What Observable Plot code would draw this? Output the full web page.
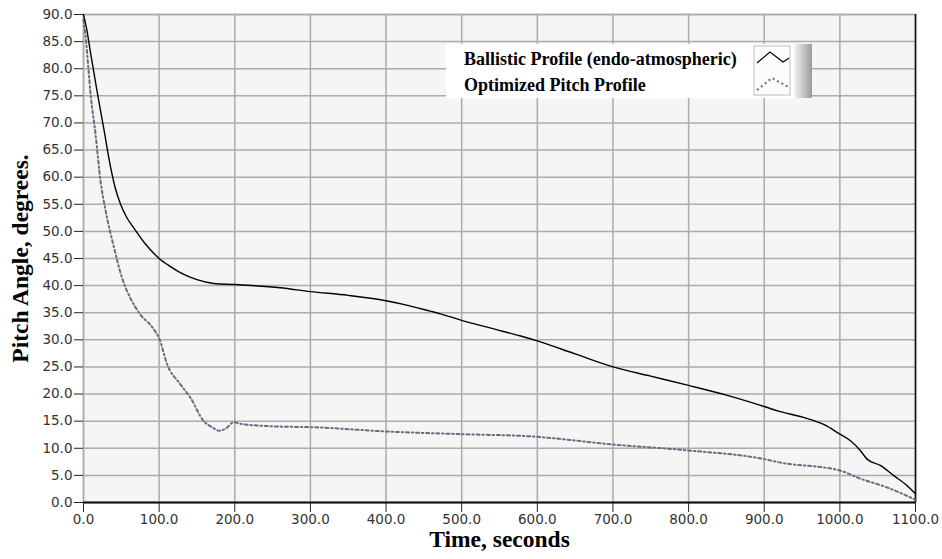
<!DOCTYPE html>
<html>
<head>
<meta charset="utf-8">
<script src="https://cdn.jsdelivr.net/npm/d3@7"></script>
<script src="https://cdn.jsdelivr.net/npm/@observablehq/plot@0.6"></script>
<style>
  html, body { margin: 0; padding: 0; background: white; }
  #chart { position: relative; width: 942px; height: 559px; }
</style>
</head>
<body>
<div id="chart"></div>
<script>
// ---- Data ----
const ballisticTime = [0, 4, 9, 18, 27, 36, 42, 49, 57, 66.7, 80, 90, 100, 115, 128, 150, 172, 200, 260, 300, 350, 400, 430, 458, 472, 500, 540, 578, 600, 650, 700, 750, 800, 850, 900, 920, 952, 980, 1000, 1014, 1027, 1036, 1054, 1071, 1089, 1100];
const ballisticPitch = [90, 87.5, 83.2, 75.8, 68.8, 61.7, 58.0, 55.0, 52.6, 50.6, 48.0, 46.4, 45.0, 43.5, 42.4, 41.1, 40.4, 40.2, 39.6, 38.9, 38.2, 37.2, 36.3, 35.3, 34.8, 33.6, 32.1, 30.7, 29.8, 27.4, 25.0, 23.3, 21.6, 19.8, 17.7, 16.8, 15.7, 14.3, 12.6, 11.4, 9.6, 8.0, 6.8, 5.0, 3.1, 1.6];

const optimizedTime = [0, 3, 9.5, 16, 22.6, 29, 40, 51, 62, 75, 91, 100.5, 110.6, 128, 141.5, 159, 170, 179, 187.7, 198.7, 207.5, 260, 300, 400, 500, 591, 700, 800, 900, 920, 1000, 1027, 1062, 1100];
const optimizedPitch = [89, 85.6, 75.1, 67.8, 59.2, 54, 47.2, 41.4, 37.7, 34.7, 32.3, 30.1, 25.5, 21.8, 19.3, 15.0, 13.9, 13.25, 13.6, 14.8, 14.5, 14.0, 13.9, 13.1, 12.6, 12.2, 10.7, 9.6, 8.0, 7.4, 5.9, 4.4, 2.8, 0.5];

const xTicks = [0, 100, 200, 300, 400, 500, 600, 700, 800, 900, 1000, 1100];
const yTicks = [0, 5, 10, 15, 20, 25, 30, 35, 40, 45, 50, 55, 60, 65, 70, 75, 80, 85, 90];

const seriesNames = ["Ballistic Profile (endo-atmospheric)", "Optimized Pitch Profile"];
const xTitle = "Time, seconds";
const yTitle = "Pitch Angle, degrees.";

const ballistic = ballisticTime.map((t, i) => ({t, v: ballisticPitch[i]}));
const optimized = optimizedTime.map((t, i) => ({t, v: optimizedPitch[i]}));

const fmt = d3.format(".1f");
const titleFont = "'Liberation Serif', 'Times New Roman', serif";
const tickFont = "'DejaVu Sans', Verdana, sans-serif";

const plot = Plot.plot({
  width: 942,
  height: 559,
  marginLeft: 83,
  marginRight: 27,
  marginTop: 14,
  marginBottom: 57,
  style: {fontFamily: tickFont, fontSize: "13.5px", color: "#333", background: "white", overflow: "visible"},
  x: {domain: [0, 1100], label: null},
  y: {domain: [0, 90], label: null},
  marks: [
    Plot.frame({fill: "#f5f5f5", stroke: "#a8a8a8", strokeWidth: 1.5}),
    Plot.gridX(xTicks, {stroke: "#ababab", strokeOpacity: 1, strokeWidth: 1.5}),
    Plot.gridY(yTicks, {stroke: "#ababab", strokeOpacity: 1, strokeWidth: 1.5}),
    Plot.axisX(xTicks, {tickFormat: fmt, tickSize: 10, tickPadding: 2, stroke: "#222", fill: "#333", fontSize: 13.5, label: null}),
    Plot.axisY(yTicks, {tickFormat: fmt, tickSize: 9, tickPadding: 2, stroke: "#222", fill: "#333", fontSize: 13.5, label: null}),
    Plot.ruleY([0], {stroke: "#111", strokeWidth: 2.2}),
    Plot.ruleX([1100], {stroke: "#111", strokeWidth: 1.5}),
    Plot.line(optimized, {x: "t", y: "v", stroke: "#6a6a82", strokeWidth: 2, strokeDasharray: "3,2.8,1.5,2.8", curve: "monotone-x"}),
    Plot.line(ballistic, {x: "t", y: "v", stroke: "#000", strokeWidth: 1.4, curve: "monotone-x"}),
    Plot.text([xTitle], {frameAnchor: "bottom", dy: 44, textAnchor: "middle", fontFamily: titleFont, fontWeight: "bold", fontSize: 23.5, fill: "#000"}),
    Plot.text([yTitle], {frameAnchor: "left", dx: -63, textAnchor: "middle", rotate: -90, fontFamily: titleFont, fontWeight: "bold", fontSize: 23.5, fill: "#000"})
  ]
});

document.getElementById("chart").appendChild(plot);

// ---- Legend overlay ----
const svg = d3.select(plot);
const defs = svg.append("defs");
const grad = defs.append("linearGradient").attr("id", "shadowGrad").attr("x1", 0).attr("x2", 1);
grad.append("stop").attr("offset", "0%").attr("stop-color", "#f4f4f4");
grad.append("stop").attr("offset", "100%").attr("stop-color", "#9a9a9a");

const lg = svg.append("g").attr("text-anchor", "start");
lg.append("rect").attr("x", 446).attr("y", 44).attr("width", 348).attr("height", 54).attr("fill", "white");
lg.append("rect").attr("x", 794).attr("y", 44).attr("width", 18).attr("height", 54).attr("fill", "url(#shadowGrad)");
lg.append("rect").attr("x", 754).attr("y", 46).attr("width", 36).attr("height", 49).attr("fill", "#fcfcfc").attr("stroke", "#bdbdbd");
lg.append("text").attr("x", 464).attr("y", 65).text(seriesNames[0])
  .attr("font-family", titleFont).attr("font-weight", "bold").attr("font-size", 18).attr("fill", "#000");
lg.append("text").attr("x", 464).attr("y", 91).text(seriesNames[1])
  .attr("font-family", titleFont).attr("font-weight", "bold").attr("font-size", 18).attr("fill", "#000");
lg.append("path").attr("d", "M757,63 L770,52 L783,62 L789,58").attr("fill", "none").attr("stroke", "#000").attr("stroke-width", 1.2);
lg.append("path").attr("d", "M757,90 L772,78 L790,88").attr("fill", "none").attr("stroke", "#6a6a82").attr("stroke-width", 2).attr("stroke-dasharray", "2,3");
</script>
</body>
</html>
